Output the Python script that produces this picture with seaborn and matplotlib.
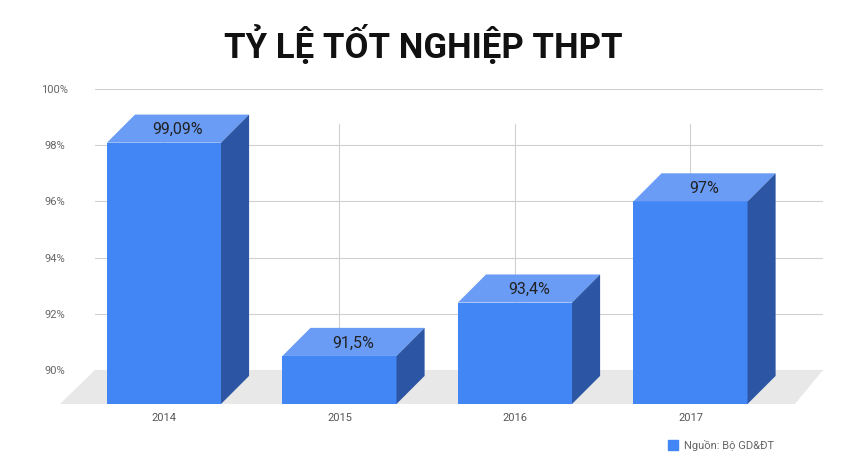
import matplotlib
matplotlib.use("Agg")
import matplotlib.pyplot as plt
from matplotlib.patches import Polygon
import seaborn as sns
import pandas as pd

years = ["2014", "2015", "2016", "2017"]
rates = [99.09, 91.5, 93.4, 97.0]
labels = ["99,09%", "91,5%", "93,4%", "97%"]
y_ticks = [90, 92, 94, 96, 98, 100]
source = "Nguồn: Bộ GD&ĐT"

front_col = "#4285f4"
top_col = "#6a9cf6"
side_col = "#2c56a3"
width = 0.65
dx, dy = 0.16, 1.0

sns.set_theme(style="white")
plt.rcParams['font.family'] = ['Roboto', 'DejaVu Sans']

fig = plt.figure(figsize=(8.47, 4.77), dpi=100)
ax = fig.add_axes([95 / 847, 72 / 477, 728 / 847, 315 / 477])
ymin = 90 - 34 / 28.1

df = pd.DataFrame({"year": years, "front": [r - dy for r in rates]})
sns.barplot(data=df, x="year", y="front", color=front_col, width=width,
            saturation=1, ax=ax, zorder=3, linewidth=0, edgecolor="none")
ax.set_xlim(-0.393, 3.755)
ax.set_ylim(ymin, 100)

# grid
for t in y_ticks:
    ax.axhline(t, color="#d0d0d0", lw=0.8, zorder=0)
for i in range(len(years)):
    ax.plot([i, i], [ymin, 98.75], color="#d0d0d0", lw=0.8, zorder=0)

# floor
floor = Polygon([(-0.593, ymin), (3.595, ymin), (3.755, 90), (-0.393, 90)],
                closed=True, facecolor="#e8e8e8", edgecolor="none", zorder=1,
                clip_on=False)
ax.add_patch(floor)

for i, (r, lab) in enumerate(zip(rates, labels)):
    x0, x1 = i - width / 2, i + width / 2
    ft = r - dy
    ax.add_patch(Polygon([(x0, ft), (x1, ft), (x1 + dx, r), (x0 + dx, r)],
                         facecolor=top_col, edgecolor="none", zorder=4))
    ax.add_patch(Polygon([(x1, ymin), (x1 + dx, ymin + dy), (x1 + dx, r), (x1, ft)],
                         facecolor=side_col, edgecolor="none", zorder=4,
                         clip_on=False))
    ax.text(i + dx / 2, r - dy / 2, lab, ha="center", va="center",
            fontsize=11.5, color="#222222", zorder=5)

for t in y_ticks:
    ax.text(-0.393 - 0.23, t, f"{t}%", ha="center", va="center",
            fontsize=8, color="#666666")
ax.set_xticks([])
ax.set_yticks([])
for i, y in enumerate(years):
    ax.text(i, ymin - 0.45, y, ha="center", va="center", fontsize=8, color="#555555")
for s in ax.spines.values():
    s.set_visible(False)
ax.set_xlabel("")
ax.set_ylabel("")

fig.text(0.5, 1 - 45 / 477, "TỶ LỆ TỐT NGHIỆP THPT", ha="center", va="center",
         fontsize=25, fontweight="bold", color="#111111")
fig.patches.append(plt.Rectangle((668 / 847, 1 - 451 / 477), 10 / 847, 10 / 477,
                                 transform=fig.transFigure, color=front_col))
fig.text(684 / 847, 1 - 446 / 477, source, ha="left", va="center",
         fontsize=8, color="#666666")

fig.savefig("out.png", dpi=100)
